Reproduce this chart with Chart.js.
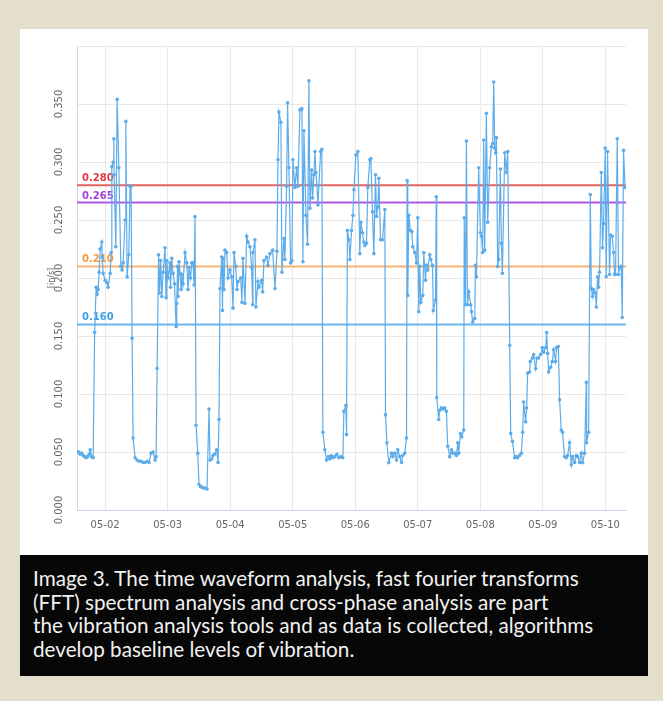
<!DOCTYPE html>
<html>
<head>
<meta charset="utf-8">
<script src="https://cdn.jsdelivr.net/npm/chart.js@4.4.0/dist/chart.umd.min.js"></script>
<style>
html,body{margin:0;padding:0;}
body{width:663px;height:701px;background:#e4dfcd;position:relative;overflow:hidden;}
#panel{position:absolute;left:20px;top:29px;width:628px;height:526px;background:#fff;}
#panel canvas{display:block;}
#caption{position:absolute;left:20px;top:555px;width:628px;height:121px;background:#070707;color:#f2f2f2;
  font-family:Lato,"Open Sans",sans-serif;font-size:20.7px;line-height:23.7px;box-sizing:border-box;padding:12px 0 0 13px;white-space:nowrap;}
</style>
</head>
<body>
<div id="panel"><canvas id="c" width="628" height="526"></canvas></div>
<div id="caption">Image 3. The time waveform analysis, fast fourier transforms<br>(FFT) spectrum analysis and cross-phase analysis are part<br>the vibration analysis tools and as data is collected, algorithms<br>develop baseline levels of vibration.</div>
<script>
// x values: day of May (decimal), y values: velocity in in/s
const times = [1.553,1.577,1.601,1.625,1.649,1.673,1.697,1.720,1.744,1.760,1.784,1.808,1.832,1.856,1.872,1.888,1.904,1.920,1.947,1.952,1.968,2.000,2.027,2.048,2.080,2.096,2.107,2.128,2.139,2.144,2.171,2.192,2.219,2.251,2.272,2.288,2.319,2.331,2.351,2.379,2.399,2.415,2.431,2.447,2.479,2.511,2.543,2.575,2.607,2.639,2.671,2.703,2.735,2.767,2.799,2.815,2.831,2.855,2.871,2.887,2.906,2.927,2.958,2.974,2.986,3.006,3.038,3.046,3.065,3.086,3.110,3.134,3.145,3.158,3.166,3.182,3.198,3.214,3.225,3.246,3.278,3.305,3.326,3.342,3.366,3.385,3.406,3.422,3.438,3.454,3.481,3.502,3.526,3.545,3.565,3.597,3.629,3.661,3.677,3.704,3.725,3.749,3.784,3.805,3.821,3.837,3.864,3.877,3.885,3.901,3.917,3.944,3.965,3.997,4.024,4.045,4.061,4.088,4.109,4.125,4.168,4.188,4.204,4.236,4.264,4.284,4.316,4.343,4.359,4.364,4.396,4.412,4.444,4.460,4.503,4.519,4.540,4.583,4.604,4.636,4.679,4.716,4.748,4.764,4.780,4.811,4.827,4.859,4.875,4.902,4.918,4.939,4.966,4.987,5.003,5.035,5.062,5.083,5.115,5.131,5.147,5.163,5.179,5.211,5.238,5.259,5.275,5.302,5.318,5.339,5.355,5.371,5.387,5.403,5.446,5.466,5.482,5.514,5.541,5.570,5.594,5.618,5.642,5.674,5.706,5.738,5.770,5.802,5.818,5.850,5.861,5.874,5.898,5.914,5.941,5.962,5.978,6.010,6.042,6.073,6.089,6.117,6.137,6.153,6.180,6.201,6.233,6.249,6.276,6.297,6.324,6.340,6.361,6.377,6.404,6.436,6.473,6.484,6.505,6.537,6.580,6.601,6.633,6.660,6.681,6.712,6.740,6.760,6.792,6.820,6.829,6.840,6.856,6.883,6.904,6.920,6.952,6.979,7.000,7.016,7.032,7.048,7.080,7.096,7.123,7.139,7.160,7.192,7.208,7.235,7.248,7.283,7.296,7.303,7.335,7.351,7.378,7.407,7.431,7.458,7.479,7.511,7.538,7.559,7.591,7.618,7.639,7.655,7.682,7.703,7.735,7.743,7.762,7.778,7.794,7.815,7.847,7.858,7.879,7.911,7.922,7.938,7.974,8.001,8.017,8.038,8.054,8.070,8.097,8.118,8.150,8.177,8.198,8.214,8.230,8.246,8.257,8.278,8.294,8.321,8.337,8.353,8.390,8.417,8.438,8.470,8.486,8.513,8.549,8.576,8.597,8.629,8.656,8.677,8.693,8.725,8.741,8.757,8.789,8.800,8.832,8.853,8.885,8.906,8.933,8.965,8.992,9.013,9.045,9.061,9.077,9.093,9.125,9.152,9.173,9.204,9.220,9.248,9.268,9.295,9.316,9.348,9.375,9.396,9.428,9.455,9.476,9.508,9.535,9.556,9.588,9.615,9.636,9.668,9.695,9.700,9.732,9.759,9.775,9.796,9.812,9.839,9.855,9.876,9.892,9.907,9.935,9.955,9.971,9.998,10.014,10.035,10.067,10.083,10.110,10.131,10.147,10.163,10.190,10.211,10.227,10.254,10.270,10.291,10.315];

const velocity = [0.050,0.050,0.048,0.049,0.047,0.046,0.045,0.046,0.048,0.052,0.046,0.045,0.153,0.192,0.186,0.190,0.205,0.225,0.231,0.218,0.204,0.198,0.196,0.192,0.204,0.222,0.296,0.300,0.320,0.289,0.227,0.354,0.295,0.210,0.207,0.213,0.250,0.335,0.201,0.220,0.279,0.279,0.148,0.062,0.045,0.043,0.042,0.042,0.041,0.041,0.042,0.041,0.049,0.050,0.043,0.046,0.122,0.220,0.187,0.215,0.184,0.205,0.226,0.183,0.215,0.200,0.213,0.192,0.217,0.204,0.195,0.158,0.178,0.210,0.184,0.214,0.204,0.190,0.203,0.195,0.222,0.213,0.190,0.209,0.200,0.213,0.213,0.194,0.253,0.073,0.049,0.022,0.020,0.020,0.019,0.019,0.018,0.087,0.043,0.044,0.047,0.048,0.052,0.041,0.078,0.191,0.218,0.172,0.217,0.190,0.224,0.222,0.200,0.207,0.201,0.174,0.222,0.210,0.190,0.197,0.200,0.179,0.217,0.178,0.236,0.231,0.227,0.209,0.177,0.222,0.233,0.175,0.197,0.192,0.198,0.188,0.215,0.218,0.211,0.221,0.224,0.191,0.223,0.302,0.343,0.334,0.205,0.234,0.216,0.279,0.351,0.295,0.213,0.215,0.302,0.278,0.295,0.279,0.345,0.345,0.346,0.214,0.327,0.254,0.229,0.370,0.260,0.293,0.269,0.289,0.309,0.291,0.280,0.263,0.309,0.311,0.067,0.052,0.043,0.046,0.044,0.047,0.045,0.046,0.048,0.045,0.046,0.045,0.085,0.090,0.065,0.241,0.233,0.216,0.241,0.254,0.276,0.306,0.309,0.221,0.248,0.239,0.231,0.228,0.230,0.278,0.302,0.303,0.257,0.221,0.289,0.253,0.261,0.286,0.233,0.233,0.259,0.082,0.058,0.041,0.049,0.046,0.049,0.043,0.052,0.046,0.041,0.047,0.049,0.062,0.284,0.185,0.254,0.241,0.240,0.227,0.222,0.213,0.252,0.171,0.210,0.179,0.185,0.222,0.198,0.211,0.207,0.220,0.216,0.211,0.172,0.181,0.270,0.097,0.078,0.086,0.088,0.087,0.088,0.085,0.055,0.046,0.052,0.049,0.049,0.047,0.058,0.049,0.066,0.063,0.069,0.252,0.177,0.318,0.177,0.188,0.177,0.171,0.162,0.165,0.211,0.201,0.295,0.239,0.236,0.222,0.319,0.224,0.342,0.248,0.295,0.313,0.316,0.369,0.312,0.308,0.321,0.210,0.216,0.294,0.230,0.204,0.308,0.291,0.309,0.142,0.066,0.059,0.045,0.046,0.045,0.047,0.049,0.067,0.093,0.076,0.088,0.118,0.119,0.128,0.131,0.134,0.122,0.131,0.131,0.134,0.140,0.136,0.140,0.153,0.135,0.119,0.123,0.128,0.138,0.128,0.140,0.141,0.095,0.069,0.067,0.046,0.045,0.047,0.058,0.039,0.046,0.041,0.047,0.046,0.041,0.049,0.041,0.049,0.110,0.058,0.067,0.272,0.191,0.184,0.190,0.187,0.175,0.201,0.192,0.205,0.291,0.226,0.247,0.312,0.201,0.309,0.203,0.237,0.236,0.222,0.203,0.203,0.320,0.203,0.209,0.210,0.166,0.310,0.278];

const dayTicks = [2,3,4,5,6,7,8,9,10];
const tickLabels = ['05-02','05-03','05-04','05-05','05-06','05-07','05-08','05-09','05-10'];
const thresholds = [0.280,0.265,0.210,0.160];
const thresholdLabels = ['0.280','0.265','0.210','0.160'];
const thresholdLineColors = ['#e3625d','#b456e2','#f7b271','#6ab8ea'];
const thresholdTextColors = ['#e23b3b','#a040da','#f39a3c','#3ea2e2'];
const xMin = 1.55, xMax = 10.33;
const yMin = 0, yMax = 0.4, yStep = 0.05;
const yTitle = '[in/s]';
const seriesColor = '#5caceb';

const overlay = {
  id: 'overlay',
  beforeDatasetsDraw(chart) {
    const {ctx, scales: {y}, chartArea} = chart;
    ctx.save();
    ctx.font = 'bold 10px "DejaVu Sans"';
    ctx.textAlign = 'left';
    ctx.textBaseline = 'alphabetic';
    thresholds.forEach((v, i) => {
      ctx.fillStyle = thresholdTextColors[i];
      ctx.fillText(thresholdLabels[i], chartArea.left + 5, y.getPixelForValue(v) - 4);
    });
    ctx.restore();
  },
  afterDraw(chart) {
    const {ctx, scales: {y}, chartArea} = chart;
    ctx.save();
    ctx.fillStyle = '#666';
    ctx.font = '10px "DejaVu Sans"';
    ctx.textAlign = 'center';
    ctx.textBaseline = 'middle';
    y.ticks.forEach(t => {
      if (t.value > yMax - 1e-9) return;
      const py = y.getPixelForValue(t.value);
      ctx.save();
      ctx.translate(chartArea.left - 17.5, py);
      ctx.rotate(-Math.PI / 2);
      ctx.fillText(t.value.toFixed(3), 0, 0);
      ctx.restore();
    });
    ctx.font = '8px "DejaVu Sans"';
    ctx.translate(chartArea.left - 25.5, (chartArea.top + chartArea.bottom) / 2);
    ctx.rotate(-Math.PI / 2);
    ctx.fillText(yTitle, 0, 0);
    ctx.restore();
  }
};

const datasets = [{
  data: times.map((t, i) => ({x: t, y: velocity[i]})),
  borderColor: seriesColor,
  backgroundColor: seriesColor,
  borderWidth: 1.2,
  pointRadius: 1.8,
  pointBorderWidth: 0,
  tension: 0,
  order: 0
}].concat(thresholds.map((v, i) => ({
  data: [{x: xMin, y: v}, {x: xMax, y: v}],
  borderColor: thresholdLineColors[i],
  borderWidth: 2,
  pointRadius: 0,
  order: 1
})));

new Chart(document.getElementById('c'), {
  type: 'line',
  data: {datasets},
  options: {
    responsive: false,
    animation: false,
    devicePixelRatio: 1,
    layout: {padding: {top: 17, right: 22, left: 0, bottom: 0}},
    plugins: {legend: {display: false}, tooltip: {enabled: false}},
    scales: {
      x: {
        type: 'linear', min: xMin, max: xMax,
        afterBuildTicks: s => { s.ticks = dayTicks.map(v => ({value: v})); },
        afterFit: s => { s.height = 45; },
        ticks: {
          callback: v => tickLabels[dayTicks.indexOf(v)],
          font: {family: 'DejaVu Sans', size: 10}, color: '#666',
          padding: 9, maxRotation: 0, minRotation: 0, autoSkip: false
        },
        grid: {color: '#e8e8e8', drawTicks: false},
        border: {color: '#ccd6eb'}
      },
      y: {
        min: yMin, max: yMax,
        afterFit: s => { s.width = 57; },
        ticks: {stepSize: yStep, display: false},
        grid: {color: '#e8e8e8', drawTicks: false},
        border: {color: '#ccd6eb'}
      }
    }
  },
  plugins: [overlay]
});
</script>
</body>
</html>
